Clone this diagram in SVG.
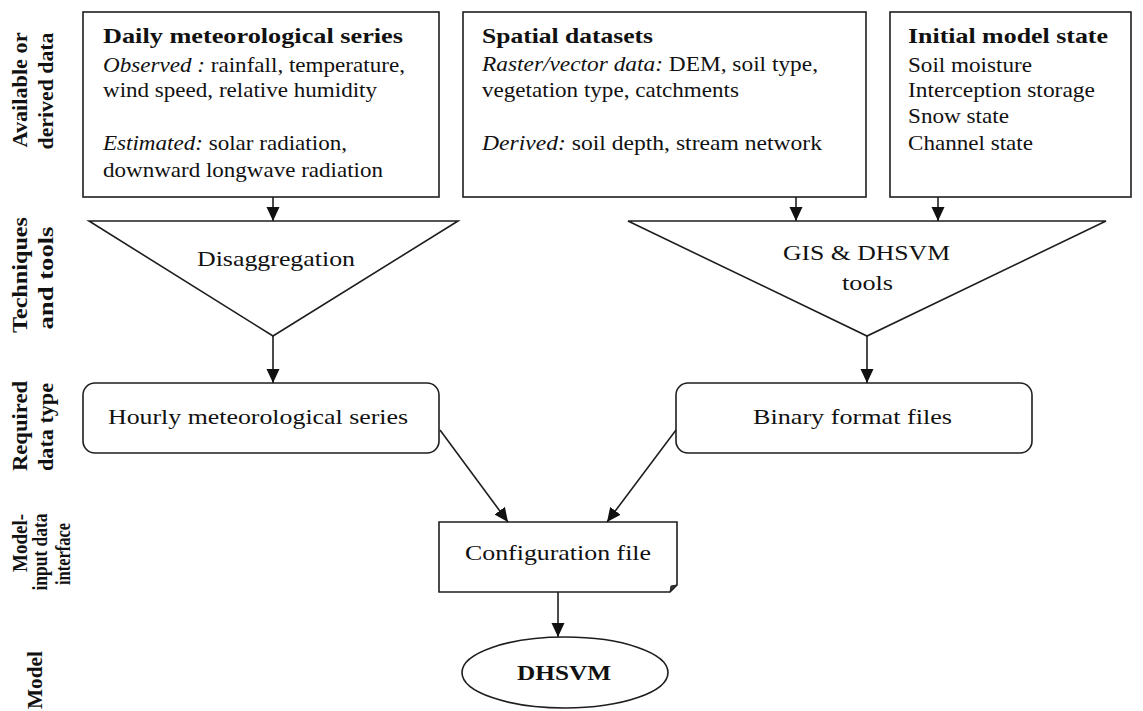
<svg xmlns="http://www.w3.org/2000/svg" width="1143" height="711" viewBox="0 0 1143 711">
<style>
.bx{fill:#fff;stroke:#1e1e1e;stroke-width:1.6}
.ln{fill:none;stroke:#1e1e1e;stroke-width:1.6}
.t{font-family:"Liberation Serif","Times New Roman",serif;font-size:22px;fill:#111}
.b{font-weight:bold}
.i{font-style:italic}
.lab{font-family:"Liberation Serif","Times New Roman",serif;font-size:21px;font-weight:bold;fill:#111}
.lab2{font-family:"Liberation Serif","Times New Roman",serif;font-size:20px;font-weight:bold;fill:#111}
</style>
<defs>
<marker id="ah" markerUnits="userSpaceOnUse" markerWidth="14" markerHeight="14" viewBox="0 0 14 14" refX="14" refY="7" orient="auto">
<path d="M0,0.5 L14,7 L0,13.5 z" fill="#111"/>
</marker>
</defs>
<rect width="1143" height="711" fill="#fff"/>

<g id="row-labels">
<text class="lab" transform="translate(27,90) rotate(-90)" text-anchor="middle" textLength="115" lengthAdjust="spacingAndGlyphs">Available or</text>
<text class="lab" transform="translate(53,91) rotate(-90)" text-anchor="middle" textLength="117" lengthAdjust="spacingAndGlyphs">derived data</text>
<text class="lab" transform="translate(27,275) rotate(-90)" text-anchor="middle" textLength="116" lengthAdjust="spacingAndGlyphs">Techniques</text>
<text class="lab" transform="translate(53,278) rotate(-90)" text-anchor="middle" textLength="103" lengthAdjust="spacingAndGlyphs">and tools</text>
<text class="lab" transform="translate(27,426) rotate(-90)" text-anchor="middle" textLength="90" lengthAdjust="spacingAndGlyphs">Required</text>
<text class="lab" transform="translate(53,427) rotate(-90)" text-anchor="middle" textLength="88" lengthAdjust="spacingAndGlyphs">data type</text>
<text class="lab2" transform="translate(27,543) rotate(-90)" text-anchor="middle" textLength="58" lengthAdjust="spacingAndGlyphs">Model-</text>
<text class="lab2" transform="translate(47,552) rotate(-90)" text-anchor="middle" textLength="77" lengthAdjust="spacingAndGlyphs">input data</text>
<text class="lab2" transform="translate(70,554) rotate(-90)" text-anchor="middle" textLength="62" lengthAdjust="spacingAndGlyphs">interface</text>
<text class="lab" transform="translate(42,680) rotate(-90)" text-anchor="middle" textLength="58" lengthAdjust="spacingAndGlyphs">Model</text>
</g>

<g id="daily-met">
<rect class="bx" x="83" y="12" width="356" height="185"/>
<text class="t b" x="103" y="43" textLength="300" lengthAdjust="spacingAndGlyphs">Daily meteorological series</text>
<text class="t" x="103" y="72" textLength="302" lengthAdjust="spacingAndGlyphs"><tspan class="i">Observed :</tspan> rainfall,  temperature,</text>
<text class="t" x="103" y="97" textLength="274" lengthAdjust="spacingAndGlyphs">wind speed, relative  humidity</text>
<text class="t" x="103" y="150" textLength="244" lengthAdjust="spacingAndGlyphs"><tspan class="i">Estimated:</tspan> solar radiation,</text>
<text class="t" x="103" y="177" textLength="280" lengthAdjust="spacingAndGlyphs">downward longwave radiation</text>
</g>

<g id="spatial">
<rect class="bx" x="463" y="12" width="403" height="185"/>
<text class="t b" x="482" y="43" textLength="171" lengthAdjust="spacingAndGlyphs">Spatial datasets</text>
<text class="t" x="482" y="71" textLength="336" lengthAdjust="spacingAndGlyphs"><tspan class="i">Raster/vector data:</tspan> DEM, soil type,</text>
<text class="t" x="482" y="97" textLength="257" lengthAdjust="spacingAndGlyphs">vegetation type, catchments</text>
<text class="t" x="482" y="150" textLength="340" lengthAdjust="spacingAndGlyphs"><tspan class="i">Derived:</tspan> soil depth, stream network</text>
</g>

<g id="initial-state">
<rect class="bx" x="890" y="12" width="241" height="185"/>
<text class="t b" x="908" y="43" textLength="200" lengthAdjust="spacingAndGlyphs">Initial model state</text>
<text class="t" x="908" y="72" textLength="124" lengthAdjust="spacingAndGlyphs">Soil moisture</text>
<text class="t" x="908" y="97" textLength="187" lengthAdjust="spacingAndGlyphs">Interception  storage</text>
<text class="t" x="908" y="123" textLength="101" lengthAdjust="spacingAndGlyphs">Snow state</text>
<text class="t" x="908" y="150" textLength="125" lengthAdjust="spacingAndGlyphs">Channel state</text>
</g>

<g id="disaggregation">
<polygon class="bx" points="89,221 458,221 273,336"/>
<text class="t" x="197" y="266" textLength="158" lengthAdjust="spacingAndGlyphs">Disaggregation</text>
</g>

<g id="gis-tools">
<polygon class="bx" points="628,221 1106,221 867,336"/>
<text class="t" x="783" y="260" textLength="167" lengthAdjust="spacingAndGlyphs">GIS &amp; DHSVM</text>
<text class="t" x="842" y="290" textLength="51" lengthAdjust="spacingAndGlyphs">tools</text>
</g>

<g id="hourly-met">
<rect class="bx" x="83" y="383" width="356" height="70" rx="12" ry="12"/>
<text class="t" x="108" y="424" textLength="300" lengthAdjust="spacingAndGlyphs">Hourly meteorological series</text>
</g>

<g id="binary-files">
<rect class="bx" x="676" y="383" width="356" height="70" rx="12" ry="12"/>
<text class="t" x="753" y="424" textLength="199" lengthAdjust="spacingAndGlyphs">Binary format files</text>
</g>

<g id="config-file">
<path class="bx" d="M439,522 H677 V585 L670,592 H439 Z"/>
<path d="M670,592 L677,585 L671,586 Z" fill="#333" stroke="#1e1e1e" stroke-width="1"/>
<text class="t" x="465" y="560" textLength="186" lengthAdjust="spacingAndGlyphs">Configuration file</text>
</g>

<g id="dhsvm">
<ellipse class="bx" cx="565" cy="672.5" rx="103" ry="35.5"/>
<text class="t b" x="517" y="680" textLength="94" lengthAdjust="spacingAndGlyphs">DHSVM</text>
</g>

<g id="connectors">
<line class="ln" x1="273" y1="197" x2="273" y2="221" marker-end="url(#ah)"/>
<line class="ln" x1="796" y1="197" x2="796" y2="221" marker-end="url(#ah)"/>
<line class="ln" x1="938" y1="197" x2="938" y2="221" marker-end="url(#ah)"/>
<line class="ln" x1="273" y1="336" x2="273" y2="383" marker-end="url(#ah)"/>
<line class="ln" x1="867" y1="336" x2="867" y2="383" marker-end="url(#ah)"/>
<line class="ln" x1="440" y1="430" x2="508" y2="522" marker-end="url(#ah)"/>
<line class="ln" x1="676" y1="430" x2="607" y2="522" marker-end="url(#ah)"/>
<line class="ln" x1="558" y1="592" x2="558" y2="637" marker-end="url(#ah)"/>
</g>
</svg>
